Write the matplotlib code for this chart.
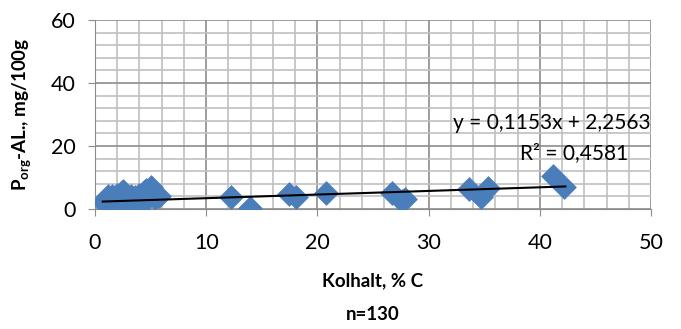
import matplotlib
matplotlib.use("Agg")
import matplotlib.pyplot as plt
from matplotlib.ticker import MultipleLocator

plt.rcParams['font.family'] = ['Lato', 'DejaVu Sans']
plt.rcParams['mathtext.fontset'] = 'custom'
plt.rcParams['mathtext.rm'] = 'Lato'
plt.rcParams['mathtext.bf'] = 'Lato:bold'

# Kolhalt (% C)
carbon = [0.8, 1.0, 1.1, 1.2, 1.3, 1.4, 1.5, 1.6, 1.7, 1.8, 1.9, 2.0, 2.1, 2.2,
          2.3, 2.4, 2.5, 2.6, 2.8, 3.0, 3.2, 3.4, 3.6, 3.8, 4.0, 4.2, 4.4, 4.6,
          4.8, 5.0, 5.2, 5.4, 5.6, 5.8, 1.5, 2.0, 3.0, 4.0, 4.5, 1.2, 2.7, 3.5,
          12.2, 13.9, 17.4, 18.1, 20.8, 26.7, 27.6, 27.9, 33.6, 34.7, 35.3, 41.2, 42.2]
# P_org-AL (mg/100g)
p_org = [2.0, 3.0, 1.5, 2.5, 3.5, 1.2, 4.0, 2.2, 1.0, 3.2, 2.0, 4.5, 1.5, 3.0,
         5.0, 2.5, 5.8, 3.5, 1.8, 3.0, 4.2, 2.2, 3.8, 1.5, 4.5, 3.0, 5.5, 6.0,
         4.0, 6.9, 5.0, 3.5, 4.5, 4.0, 1.0, 1.2, 1.5, 2.0, 2.5, 4.2, 4.0, 2.8,
         3.9, 0.3, 4.7, 3.7, 5.2, 5.0, 2.6, 3.3, 6.3, 3.9, 6.6, 10.3, 7.1]

slope = 0.1153
intercept = 2.2563
fit_x = [0.7, 42.3]

fig = plt.figure(figsize=(6.81, 3.29), dpi=100)
ax = fig.add_axes([0.1395, 0.365, 0.8165, 0.574])

ax.set_xlim(0, 50)
ax.set_ylim(0, 60)
ax.xaxis.set_major_locator(MultipleLocator(10))
ax.xaxis.set_minor_locator(MultipleLocator(2))
ax.yaxis.set_major_locator(MultipleLocator(20))
ax.yaxis.set_minor_locator(MultipleLocator(4))
ax.grid(which='minor', color='#c0c0c0', linewidth=1.2)
ax.grid(which='major', color='#8c8c8c', linewidth=1.2)
ax.set_axisbelow(True)
for s in ax.spines.values():
    s.set_visible(False)
ax.spines['left'].set_visible(True)
ax.spines['left'].set_color('#8c8c8c')
ax.spines['bottom'].set_visible(True)
ax.spines['bottom'].set_color('#8c8c8c')
ax.tick_params(which='both', length=0, labelsize=15.5, colors='black')
ax.tick_params(axis='x', which='major', length=5, color='#8c8c8c', direction='out', pad=12)
ax.tick_params(axis='y', which='major', length=5, color='#8c8c8c', direction='out', pad=9)

ax.scatter(carbon, p_org, marker='D', s=160, color='#4a7ebb', zorder=3, linewidths=0)
ax.plot(fit_x, [slope * v + intercept for v in fit_x], color='black', linewidth=1.5, zorder=4)

ax.text(0.999, 0.455, 'y = 0,1153x + 2,2563', transform=ax.transAxes, ha='right', va='center', fontsize=15)
ax.text(0.958, 0.298, 'R² = 0,4581', transform=ax.transAxes, ha='right', va='center', fontsize=15)

ax.set_xlabel('Kolhalt, % C\nn=130', fontsize=13.5, fontweight='bold', linespacing=2.2, labelpad=14)
ax.set_ylabel(r'P$_{\mathbf{org}}$-AL., mg/100g', fontsize=13.5, fontweight='bold', labelpad=12)

fig.savefig('out.png', dpi=100)
